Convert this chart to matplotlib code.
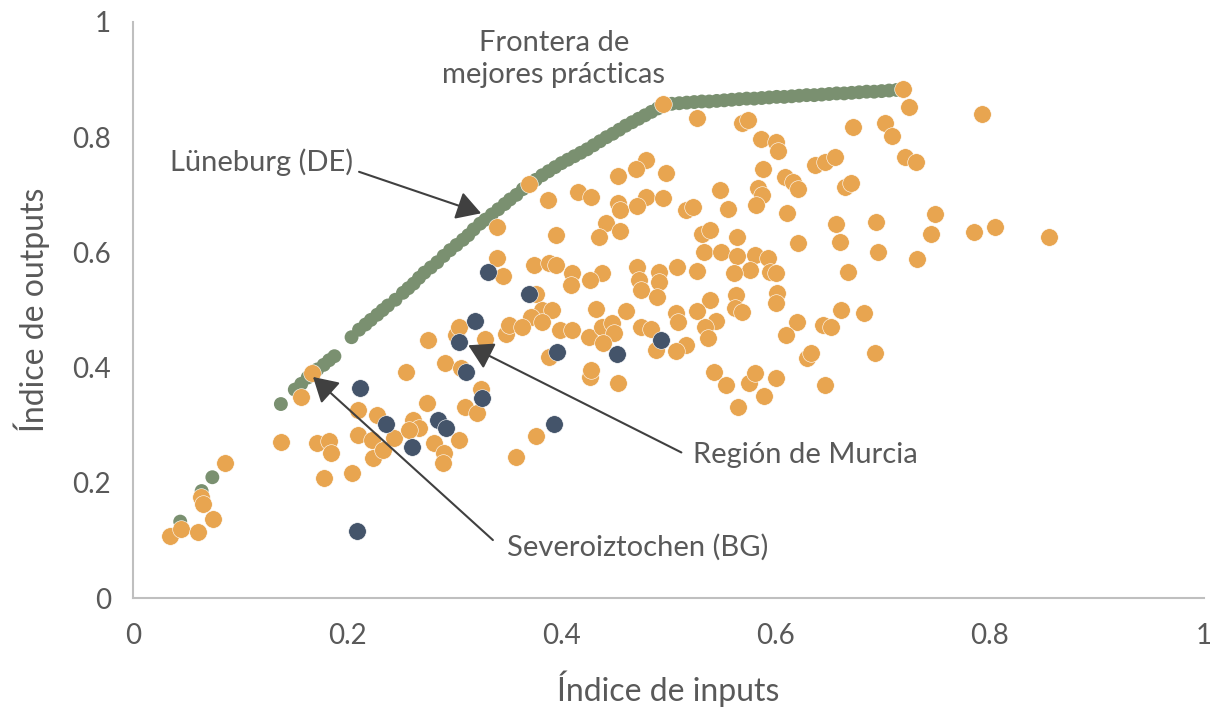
import matplotlib
matplotlib.use("Agg")
import matplotlib.pyplot as plt

plt.rcParams["font.family"] = ["Lato", "DejaVu Sans"]

# Regiones (naranja)
orange_x = [0.034, 0.045, 0.061, 0.075, 0.063, 0.065, 0.086, 0.138, 0.172, 0.183,
            0.185, 0.178, 0.204, 0.210, 0.228, 0.210, 0.223, 0.224, 0.233, 0.244,
            0.157, 0.167, 0.255, 0.275, 0.261, 0.267, 0.258, 0.281, 0.290, 0.289,
            0.304, 0.376, 0.358, 0.302, 0.329, 0.348, 0.291, 0.306, 0.325, 0.274,
            0.310, 0.321, 0.388, 0.427, 0.304,
            0.370, 0.387, 0.415, 0.428, 0.340, 0.395, 0.340, 0.345, 0.374, 0.388,
            0.395, 0.410, 0.409, 0.376, 0.382, 0.391, 0.372, 0.351, 0.363, 0.382,
            0.399, 0.410, 0.426,
            0.495, 0.527, 0.569, 0.574, 0.586, 0.600, 0.602, 0.672, 0.479, 0.470,
            0.498, 0.453, 0.453, 0.455, 0.479, 0.471, 0.495, 0.516, 0.523, 0.548,
            0.556, 0.584, 0.587, 0.582, 0.588, 0.609, 0.616, 0.621, 0.611, 0.637,
            0.646, 0.655, 0.665, 0.670, 0.656, 0.660, 0.668, 0.442, 0.455, 0.435,
            0.531, 0.539, 0.564, 0.621, 0.533, 0.549, 0.564, 0.581, 0.593, 0.576,
            0.595, 0.600, 0.561, 0.508, 0.527, 0.471, 0.472, 0.491, 0.491, 0.474,
            0.489, 0.438, 0.427, 0.539, 0.527, 0.563, 0.562, 0.569, 0.601, 0.600,
            0.661, 0.432, 0.460, 0.507, 0.509, 0.544, 0.534, 0.537, 0.516, 0.507,
            0.620, 0.610, 0.644, 0.652, 0.438, 0.447, 0.449, 0.439, 0.474, 0.484,
            0.488, 0.428, 0.453, 0.542, 0.554, 0.575, 0.581, 0.565, 0.589, 0.600,
            0.629, 0.633, 0.646,
            0.719, 0.725, 0.793, 0.702, 0.709, 0.721, 0.731, 0.749, 0.694, 0.745,
            0.785, 0.805, 0.855, 0.696, 0.732, 0.683, 0.693]
orange_y = [0.108, 0.120, 0.115, 0.137, 0.175, 0.163, 0.234, 0.271, 0.269, 0.273,
            0.252, 0.208, 0.217, 0.326, 0.318, 0.283, 0.274, 0.243, 0.257, 0.278,
            0.349, 0.391, 0.392, 0.448, 0.309, 0.295, 0.292, 0.269, 0.252, 0.234,
            0.274, 0.281, 0.245, 0.457, 0.450, 0.458, 0.408, 0.399, 0.363, 0.339,
            0.332, 0.321, 0.418, 0.384, 0.470,
            0.719, 0.691, 0.705, 0.696, 0.644, 0.630, 0.590, 0.559, 0.578, 0.582,
            0.578, 0.564, 0.543, 0.528, 0.500, 0.500, 0.488, 0.474, 0.470, 0.479,
            0.465, 0.465, 0.453,
            0.858, 0.833, 0.825, 0.830, 0.797, 0.792, 0.776, 0.818, 0.760, 0.745,
            0.738, 0.733, 0.686, 0.674, 0.696, 0.681, 0.694, 0.674, 0.679, 0.708,
            0.675, 0.712, 0.700, 0.682, 0.745, 0.731, 0.722, 0.710, 0.668, 0.752,
            0.757, 0.766, 0.714, 0.720, 0.649, 0.618, 0.566, 0.651, 0.637, 0.627,
            0.632, 0.639, 0.627, 0.616, 0.601, 0.601, 0.594, 0.595, 0.590, 0.569,
            0.566, 0.564, 0.564, 0.575, 0.568, 0.575, 0.552, 0.566, 0.549, 0.535,
            0.523, 0.564, 0.552, 0.517, 0.498, 0.526, 0.503, 0.497, 0.530, 0.512,
            0.500, 0.502, 0.498, 0.495, 0.479, 0.481, 0.470, 0.451, 0.439, 0.429,
            0.479, 0.457, 0.474, 0.470, 0.470, 0.477, 0.460, 0.443, 0.470, 0.467,
            0.431, 0.396, 0.373, 0.392, 0.370, 0.373, 0.391, 0.332, 0.351, 0.382,
            0.417, 0.425, 0.370,
            0.884, 0.852, 0.840, 0.825, 0.802, 0.766, 0.757, 0.667, 0.653, 0.632,
            0.635, 0.644, 0.627, 0.601, 0.589, 0.495, 0.425]

# Regiones destacadas (azul oscuro)
navy_x = [0.212, 0.236, 0.209, 0.260, 0.285, 0.292, 0.304, 0.311, 0.326, 0.319,
          0.331, 0.370, 0.396, 0.393, 0.452, 0.493]
navy_y = [0.365, 0.302, 0.116, 0.262, 0.309, 0.295, 0.444, 0.392, 0.347, 0.481,
          0.566, 0.528, 0.427, 0.302, 0.424, 0.448]

# Frontera de mejores prácticas (verde)
front_x = [0.044, 0.064, 0.074, 0.138, 0.151, 0.157, 0.163, 0.167, 0.172, 0.178,
           0.183, 0.188, 0.204, 0.211, 0.217, 0.222, 0.228, 0.233, 0.238, 0.245,
           0.252, 0.257, 0.262, 0.267, 0.272, 0.278, 0.284, 0.290, 0.296, 0.302,
           0.308, 0.313, 0.318, 0.324, 0.329, 0.335, 0.341, 0.347, 0.352, 0.358,
           0.364, 0.370, 0.376, 0.382, 0.388, 0.394, 0.400, 0.406, 0.412, 0.418,
           0.424, 0.430, 0.436, 0.442, 0.448, 0.454, 0.460, 0.466, 0.472, 0.478,
           0.484, 0.490, 0.495, 0.503, 0.510, 0.517, 0.524, 0.531, 0.538, 0.545,
           0.552, 0.559, 0.566, 0.573, 0.580, 0.587, 0.594, 0.601, 0.608, 0.615,
           0.622, 0.629, 0.636, 0.643, 0.650, 0.657, 0.664, 0.671, 0.678, 0.685,
           0.692, 0.699, 0.706, 0.713]
front_y = [0.133, 0.186, 0.210, 0.337, 0.362, 0.372, 0.383, 0.390, 0.397, 0.405,
           0.413, 0.420, 0.453, 0.466, 0.475, 0.483, 0.492, 0.500, 0.508, 0.518,
           0.530, 0.538, 0.546, 0.556, 0.565, 0.574, 0.583, 0.594, 0.604, 0.613,
           0.622, 0.630, 0.640, 0.650, 0.657, 0.666, 0.675, 0.684, 0.692, 0.700,
           0.710, 0.718, 0.726, 0.734, 0.741, 0.748, 0.755, 0.761, 0.767, 0.773,
           0.779, 0.786, 0.793, 0.800, 0.806, 0.813, 0.820, 0.826, 0.832, 0.838,
           0.844, 0.850, 0.856, 0.858, 0.859, 0.860, 0.861, 0.862, 0.862, 0.863,
           0.864, 0.865, 0.866, 0.867, 0.867, 0.868, 0.869, 0.870, 0.870, 0.871,
           0.872, 0.873, 0.873, 0.874, 0.875, 0.876, 0.876, 0.877, 0.878, 0.879,
           0.879, 0.880, 0.881, 0.882]

text_color = "#595959"
arrow_color = "#404040"

fig = plt.figure(figsize=(12.1, 7.08), dpi=100)
ax = fig.add_axes([0.110, 0.155, 0.8850, 0.814])

ax.scatter(front_x, front_y, s=100, color="#7A9070", edgecolor="none", zorder=2)
ax.scatter(orange_x, orange_y, s=160, color="#E8A550", edgecolor="white",
           linewidth=0.4, zorder=3)
ax.scatter(navy_x, navy_y, s=160, color="#44546A", edgecolor="white",
           linewidth=0.4, zorder=4)

ax.set_xlim(0, 1)
ax.set_ylim(0, 1)
ax.set_xticks([0, 0.2, 0.4, 0.6, 0.8, 1])
ax.set_xticklabels(["0", "0.2", "0.4", "0.6", "0.8", "1"])
ax.set_yticks([0, 0.2, 0.4, 0.6, 0.8, 1])
ax.set_yticklabels(["0", "0.2", "0.4", "0.6", "0.8", "1"])
ax.tick_params(axis="both", length=0, labelsize=20, labelcolor=text_color)
ax.tick_params(axis="x", pad=18)
ax.tick_params(axis="y", pad=16)
for s in ["top", "right"]:
    ax.spines[s].set_visible(False)
for s in ["left", "bottom"]:
    ax.spines[s].set_color("#BFBFBF")
    ax.spines[s].set_linewidth(1.5)

ax.set_xlabel("Índice de inputs", fontsize=23, color=text_color, labelpad=15)
ax.set_ylabel("Índice de outputs", fontsize=23, color=text_color, labelpad=16)

# textos y flechas
ax.text(0.393, 0.936, "Frontera de\nmejores prácticas", ha="center", va="center",
        fontsize=21, color=text_color, linespacing=1.3)
ax.text(0.034, 0.757, "Lüneburg (DE)", ha="left", va="center", fontsize=21,
        color=text_color)
ax.text(0.523, 0.248, "Región de Murcia", ha="left", va="center", fontsize=21,
        color=text_color)
ax.text(0.349, 0.089, "Severoiztochen (BG)", ha="left", va="center", fontsize=21,
        color=text_color)

arrow = dict(arrowstyle="-|>,head_length=0.6,head_width=0.35", mutation_scale=25,
             color=arrow_color, lw=1.5, shrinkA=0, shrinkB=0)
ax.annotate("", xy=(0.325, 0.668), xytext=(0.211, 0.740), arrowprops=arrow, zorder=5)
ax.annotate("", xy=(0.313, 0.439), xytext=(0.512, 0.253), arrowprops=arrow, zorder=5)
ax.annotate("", xy=(0.168, 0.384), xytext=(0.336, 0.101), arrowprops=arrow, zorder=5)

fig.savefig("out.png", dpi=100)
